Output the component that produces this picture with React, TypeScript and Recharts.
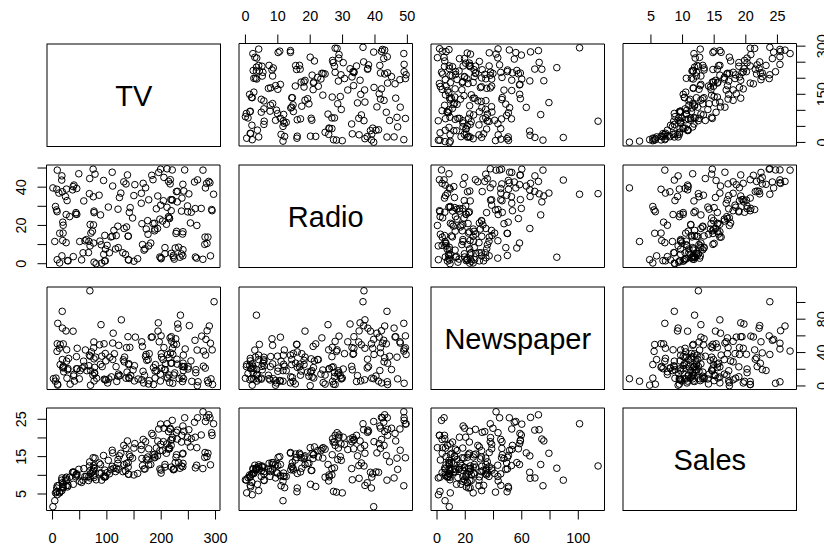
import React from "react";
import { ScatterChart, Scatter, XAxis, YAxis, ReferenceArea, ReferenceDot } from "recharts";

const TV = [
  230.1, 44.5, 17.2, 151.5, 180.8, 8.7, 57.5, 120.2, 8.6, 199.8,
  66.1, 214.7, 23.8, 97.5, 204.1, 195.4, 67.8, 281.4, 69.2, 147.3,
  218.4, 237.4, 13.2, 228.3, 62.3, 262.9, 142.9, 240.1, 248.8, 70.6,
  292.9, 112.9, 97.2, 265.6, 95.7, 290.7, 266.9, 74.7, 43.1, 228,
  202.5, 177, 293.6, 206.9, 25.1, 175.1, 89.7, 239.9, 227.2, 66.9,
  199.8, 100.4, 216.4, 182.6, 262.7, 198.9, 7.3, 136.2, 210.8, 210.7,
  53.5, 261.3, 239.3, 102.7, 131.1, 69, 31.5, 139.3, 237.4, 216.8,
  199.1, 109.8, 26.8, 129.4, 213.4, 16.9, 27.5, 120.5, 5.4, 116,
  76.4, 239.8, 75.3, 68.4, 213.5, 193.2, 76.3, 110.7, 88.3, 109.8,
  134.3, 28.6, 217.7, 250.9, 107.4, 163.3, 197.6, 184.9, 289.7, 135.2,
  222.4, 296.4, 280.2, 187.9, 238.2, 137.9, 25, 90.4, 13.1, 255.4,
  225.8, 241.7, 175.7, 209.6, 78.2, 75.1, 139.2, 76.4, 125.7, 19.4,
  141.3, 18.8, 224, 123.1, 229.5, 87.2, 7.8, 80.2, 220.3, 59.6,
  0.7, 265.2, 8.4, 219.8, 36.9, 48.3, 25.6, 273.7, 43, 184.9,
  73.4, 193.7, 220.5, 104.6, 96.2, 140.3, 240.1, 243.2, 38, 44.7,
  280.7, 121, 197.6, 171.3, 187.8, 4.1, 93.9, 149.8, 11.7, 131.7,
  172.5, 85.7, 188.4, 163.5, 117.2, 234.5, 17.9, 206.8, 215.4, 284.3,
  50, 164.5, 19.6, 168.4, 222.4, 276.9, 248.4, 170.2, 276.7, 165.6,
  156.6, 218.5, 56.2, 287.6, 253.8, 205, 139.5, 191.1, 286, 18.7,
  39.5, 75.5, 17.2, 166.8, 149.7, 38.2, 94.2, 177, 283.6, 232.1,
];

const RADIO = [
  37.8, 39.3, 45.9, 41.3, 10.8, 48.9, 32.8, 19.6, 2.1, 2.6,
  5.8, 24, 35.1, 7.6, 32.9, 47.7, 36.6, 39.6, 20.5, 23.9,
  27.7, 5.1, 15.9, 16.9, 12.6, 3.5, 29.3, 16.7, 27.1, 16,
  28.3, 17.4, 1.5, 20, 1.4, 4.1, 43.8, 49.4, 26.7, 37.7,
  22.3, 33.4, 27.7, 8.4, 25.7, 22.5, 9.9, 41.5, 15.8, 11.7,
  3.1, 9.6, 41.7, 46.2, 28.8, 49.4, 28.1, 19.2, 49.6, 29.5,
  2, 42.7, 15.5, 29.6, 42.8, 9.3, 24.6, 14.5, 27.5, 43.9,
  30.6, 14.3, 33, 5.7, 24.6, 43.7, 1.6, 28.5, 29.9, 7.7,
  26.7, 4.1, 20.3, 44.5, 43, 18.4, 27.5, 40.6, 25.5, 47.8,
  4.9, 1.5, 33.5, 36.5, 14, 31.6, 3.5, 21, 42.3, 41.7,
  4.3, 36.3, 10.1, 17.2, 34.3, 46.4, 11, 0.3, 0.4, 26.9,
  8.2, 38, 15.4, 20.6, 46.8, 35, 14.3, 0.8, 36.9, 16,
  26.8, 21.7, 2.4, 34.6, 32.3, 11.8, 38.9, 0, 49, 12,
  39.6, 2.9, 27.2, 33.5, 38.6, 47, 39, 28.9, 25.9, 43.9,
  17, 35.4, 33.2, 5.7, 14.8, 1.9, 7.3, 49, 40.3, 25.8,
  13.9, 8.4, 23.3, 39.7, 21.1, 11.6, 43.5, 1.3, 36.9, 18.4,
  18.1, 35.8, 18.1, 36.8, 14.7, 3.4, 37.6, 5.2, 23.6, 10.6,
  11.6, 20.9, 20.1, 7.1, 3.4, 48.9, 30.2, 7.8, 2.3, 10,
  2.6, 5.4, 5.7, 43, 21.3, 45.1, 2.1, 28.7, 13.9, 12.1,
  41.1, 10.8, 4.1, 42, 35.6, 3.7, 4.9, 9.3, 42, 8.6,
];

const NEWSPAPER = [
  69.2, 45.1, 69.3, 58.5, 58.4, 75, 23.5, 11.6, 1, 21.2,
  24.2, 4, 65.9, 7.2, 46, 52.9, 114, 55.8, 18.3, 19.1,
  53.4, 23.5, 49.6, 26.2, 18.3, 19.5, 12.6, 22.9, 22.9, 40.8,
  43.2, 38.6, 30, 0.3, 7.4, 8.5, 5, 45.7, 35.1, 32,
  31.6, 38.7, 1.8, 26.4, 43.3, 31.5, 35.7, 18.5, 49.9, 36.8,
  34.6, 3.6, 39.6, 58.7, 15.9, 60, 41.4, 16.6, 37.7, 9.3,
  21.4, 54.7, 27.3, 8.4, 28.9, 0.9, 2.2, 10.2, 11, 27.2,
  38.7, 31.7, 19.3, 31.3, 13.1, 89.4, 20.7, 14.2, 9.4, 23.1,
  22.3, 36.9, 32.5, 35.6, 33.8, 65.7, 16, 63.2, 73.4, 51.4,
  9.3, 33, 59, 72.3, 10.9, 52.9, 5.9, 22, 51.2, 45.9,
  49.8, 100.9, 21.4, 17.9, 5.3, 59, 29.7, 23.2, 25.6, 5.5,
  56.5, 23.2, 2.4, 10.7, 34.5, 52.7, 25.6, 14.8, 79.2, 22.3,
  46.2, 50.4, 15.6, 12.4, 74.2, 25.9, 50.6, 9.2, 3.2, 43.1,
  8.7, 43, 2.1, 45.1, 65.6, 8.5, 9.3, 59.7, 20.5, 1.7,
  12.9, 75.6, 37.9, 34.4, 38.9, 9, 8.7, 44.3, 11.9, 20.6,
  37, 48.7, 14.2, 37.7, 9.5, 5.7, 50.5, 24.3, 45.2, 34.6,
  30.7, 49.3, 25.6, 7.4, 5.4, 84.8, 21.6, 19.4, 57.6, 6.4,
  18.4, 47.4, 17, 12.8, 13.1, 41.8, 20.3, 35.2, 23.7, 17.6,
  8.3, 27.4, 29.7, 71.8, 30, 19.6, 26.6, 18.2, 3.7, 23.4,
  5.8, 6, 31.6, 3.6, 6, 13.8, 8.1, 6.4, 66.2, 8.7,
];

const SALES = [
  22.1, 10.4, 9.3, 18.5, 12.9, 7.2, 11.8, 13.2, 4.8, 10.6,
  8.6, 17.4, 9.2, 9.7, 19, 22.4, 12.5, 24.4, 11.3, 14.6,
  18, 12.5, 5.6, 15.5, 9.7, 12, 15, 15.9, 18.9, 10.5,
  21.4, 11.9, 9.6, 17.4, 9.5, 12.8, 25.4, 14.7, 10.1, 21.5,
  16.6, 17.1, 20.7, 12.9, 8.5, 14.9, 10.6, 23.2, 14.8, 9.7,
  11.4, 10.7, 22.6, 21.2, 20.2, 23.7, 5.5, 13.2, 23.8, 18.4,
  8.1, 24.2, 15.7, 14, 18, 9.3, 9.5, 13.4, 18.9, 22.3,
  18.3, 12.4, 8.8, 11, 17, 8.7, 6.9, 14.2, 5.3, 11,
  11.8, 12.3, 11.3, 13.6, 21.7, 15.2, 12, 16, 12.9, 16.7,
  11.2, 7.3, 19.4, 22.2, 11.5, 16.9, 11.7, 15.5, 25.4, 17.2,
  11.7, 23.8, 14.8, 14.7, 20.7, 19.2, 7.2, 8.7, 5.3, 19.8,
  13.4, 21.8, 14.1, 15.9, 14.6, 12.6, 12.2, 9.4, 15.9, 6.6,
  15.5, 7, 11.6, 15.2, 19.7, 10.6, 6.6, 8.8, 24.7, 9.7,
  1.6, 12.7, 5.7, 19.6, 10.8, 11.6, 9.5, 20.8, 9.6, 20.7,
  10.9, 19.2, 20.1, 10.4, 11.4, 10.3, 13.2, 25.4, 10.9, 10.1,
  16.1, 11.6, 16.6, 19, 15.6, 3.2, 15.3, 10.1, 7.3, 12.9,
  14.4, 13.3, 14.9, 18, 11.9, 11.9, 8, 12.2, 17.1, 15,
  8.4, 14.5, 7.6, 11.7, 11.5, 27, 20.2, 11.7, 11.8, 12.6,
  10.5, 12.2, 8.7, 26.2, 17.6, 22.6, 10.3, 17.3, 15.9, 6.7,
  10.8, 9.9, 5.9, 19.6, 17.3, 7.6, 9.7, 12.8, 25.5, 13.4,
];

const NAMES = ["TV", "Radio", "Newspaper", "Sales"];

const TV_TICKS = [0, 50, 100, 150, 200, 250, 300];
const TV_LABELS_BOTTOM = [0, 100, 200, 300];
const TV_LABELS_RIGHT = [0, 150, 300];
const RADIO_TICKS = [0, 10, 20, 30, 40, 50];
const RADIO_LABELS_TOP = [0, 10, 20, 30, 40, 50];
const RADIO_LABELS_LEFT = [0, 20, 40];
const NEWS_TICKS = [0, 20, 40, 60, 80, 100];
const NEWS_LABELS_BOTTOM = [0, 20, 60, 100];
const NEWS_LABELS_RIGHT = [0, 40, 80];
const SALES_TICKS = [5, 10, 15, 20, 25];
const SALES_LABELS_TOP = [5, 10, 15, 20, 25];
const SALES_LABELS_LEFT = [5, 15, 25];

const VARS = [
  { name: NAMES[0], values: TV, ticks: TV_TICKS, hLabels: TV_LABELS_BOTTOM, vLabels: TV_LABELS_RIGHT },
  { name: NAMES[1], values: RADIO, ticks: RADIO_TICKS, hLabels: RADIO_LABELS_TOP, vLabels: RADIO_LABELS_LEFT },
  { name: NAMES[2], values: NEWSPAPER, ticks: NEWS_TICKS, hLabels: NEWS_LABELS_BOTTOM, vLabels: NEWS_LABELS_RIGHT },
  { name: NAMES[3], values: SALES, ticks: SALES_TICKS, hLabels: SALES_LABELS_TOP, vLabels: SALES_LABELS_LEFT },
];

const padDomain = (arr: number[]): [number, number] => {
  const mn = Math.min(...arr);
  const mx = Math.max(...arr);
  const p = (mx - mn) * 0.04;
  return [mn - p, mx + p];
};

const COL_X = [46.5, 238.5, 430.5, 622.5];
const ROW_Y = [43.5, 165, 286.5, 408];
const W = 173.5;
const H = 102.5;
const E = 30; // extra room around each chart so edge labels are not clipped
const FONT = "'Liberation Sans', Arial, Helvetica, sans-serif";
const TICK_FS = 14.4;
const TICK_LEN = 9;
const TOP_GAP = 14; // tick end to label baseline (top axes)
const BOTTOM_GAP = 23; // tick end to label baseline (bottom axes)

const hasLabel = (labels: number[], v: any) =>
  labels.some((l) => Math.abs(Number(v) - l) < 1e-6);

const vTick = (labels: number[]) => (props: any) => {
  const { x, y, payload } = props;
  if (!hasLabel(labels, payload.value)) return <g />;
  return (
    <text
      x={x}
      y={y}
      transform={`rotate(-90, ${x}, ${y})`}
      textAnchor="middle"
      fontSize={TICK_FS}
      fontFamily={FONT}
      fill="#000"
    >
      {String(Math.round(Number(payload.value)))}
    </text>
  );
};

// Horizontal-axis tick mark + label, placed at the data coordinate by a ReferenceDot
const hTickMark = (value: number, labelled: boolean, isTop: boolean) => (p: any) => {
  const { cx, cy } = p;
  if (cx == null || cy == null || isNaN(cx) || isNaN(cy)) return <g />;
  const dir = isTop ? -1 : 1;
  const y2 = cy + dir * TICK_LEN;
  const ty = isTop ? y2 - TOP_GAP : y2 + BOTTOM_GAP;
  return (
    <g>
      <line x1={cx} y1={cy} x2={cx} y2={y2} stroke="#000" strokeWidth={1} />
      {labelled ? (
        <text x={cx} y={ty} textAnchor="middle" fontSize={TICK_FS} fontFamily={FONT} fill="#000">
          {String(value)}
        </text>
      ) : null}
    </g>
  );
};

const OpenCircle = (props: any) => {
  const { cx, cy } = props;
  if (cx == null || cy == null) return <g />;
  return <circle cx={cx} cy={cy} r={3.3} fill="none" stroke="#000" strokeWidth={1} />;
};

function Panel({ r, c }: { r: number; c: number }) {
  const x0 = COL_X[c];
  const y0 = ROW_Y[r];
  const xv = VARS[c];
  const yv = VARS[r];
  const xd = padDomain(xv.values);
  const yd = padDomain(yv.values);
  const top = r === 0 && c % 2 === 1;
  const bottom = r === 3 && c % 2 === 0;
  const left = c === 0 && r % 2 === 1;
  const right = c === 3 && r % 2 === 0;
  const showX = top || bottom;
  const showY = left || right;
  const padT = top ? 43.5 : 0;
  const padB = bottom ? 38 : 0;
  const padL = left ? 46.5 : 0;
  const padR = right ? 40 : 0;
  const data = xv.values.map((v, i) => ({ x: v, y: yv.values[i] }));
  const yTicks = showY ? yv.ticks.slice() : undefined;
  return (
    <div style={{ position: "absolute", left: x0 - padL - E, top: y0 - padT - E }}>
      <ScatterChart
        width={W + padL + padR + 2 * E}
        height={H + padT + padB + 2 * E}
        margin={{ top: E + padT, right: E, bottom: E + padB, left: E }}
      >
        <XAxis
          type="number"
          dataKey="x"
          domain={[xd[0], xd[1]]}
          allowDataOverflow
          hide
          height={0}
        />
        <YAxis
          type="number"
          dataKey="y"
          domain={[yd[0], yd[1]]}
          allowDataOverflow
          hide={!showY}
          orientation={left ? "left" : "right"}
          width={left ? padL : padR}
          ticks={yTicks}
          interval={0}
          minTickGap={0}
          tickSize={TICK_LEN}
          tickMargin={left ? 11 : 22}
          tick={vTick(yv.vLabels.slice())}
          axisLine={false}
          tickLine={{ stroke: "#000", strokeWidth: 1 }}
        />
        <ReferenceArea
          x1={xd[0]}
          x2={xd[1]}
          y1={yd[0]}
          y2={yd[1]}
          fill="none"
          fillOpacity={0}
          stroke="#000"
          strokeWidth={1}
          strokeOpacity={1}
          ifOverflow="visible"
        />
        <Scatter data={data} isAnimationActive={false} shape={OpenCircle} />
        {showX
          ? xv.ticks.map((t) => (
              <ReferenceDot
                key={`xt-${t}`}
                x={t}
                y={top ? yd[1] : yd[0]}
                r={0}
                ifOverflow="visible"
                isFront
                shape={hTickMark(t, hasLabel(xv.hLabels, t), top)}
              />
            ))
          : null}
      </ScatterChart>
    </div>
  );
}

function Diagonal({ i }: { i: number }) {
  return (
    <div style={{ position: "absolute", left: COL_X[i], top: ROW_Y[i] }}>
      <svg width={W + 1} height={H + 1} style={{ display: "block", overflow: "visible" }}>
        <rect x={0} y={0} width={W} height={H} fill="none" stroke="#000" strokeWidth={1} />
        <text
          x={W / 2}
          y={H / 2 + 10.5}
          textAnchor="middle"
          fontSize={29}
          fontFamily={FONT}
          fill="#000"
        >
          {VARS[i].name}
        </text>
      </svg>
    </div>
  );
}

export default function App() {
  const cells: React.ReactNode[] = [];
  for (let r = 0; r < 4; r++) {
    for (let c = 0; c < 4; c++) {
      if (r === c) cells.push(<Diagonal key={`${r}-${c}`} i={r} />);
      else cells.push(<Panel key={`${r}-${c}`} r={r} c={c} />);
    }
  }
  return (
    <div
      style={{
        position: "absolute",
        left: 0,
        top: 0,
        width: 824,
        height: 548,
        overflow: "hidden",
        background: "#fff",
      }}
    >
      {cells}
    </div>
  );
}
